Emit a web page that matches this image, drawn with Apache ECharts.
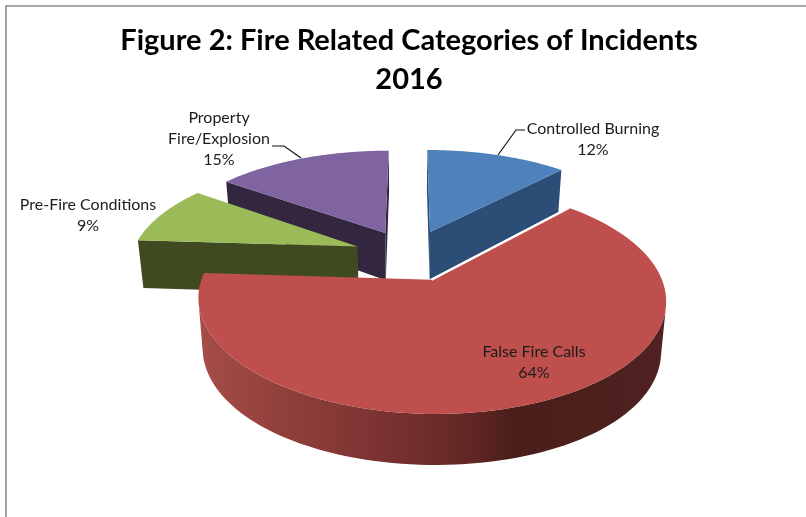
<!DOCTYPE html>
<html>
<head>
<meta charset="utf-8">
<style>html,body{margin:0;padding:0;background:#fff}#c{width:806px;height:517px}</style>
<script src="https://cdn.jsdelivr.net/npm/echarts@6/dist/echarts.min.js"></script>
</head>
<body>
<div id="c"></div>
<script>
// ---- data ----
const categories = ['Controlled Burning', 'False Fire Calls', 'Pre-Fire Conditions', 'Property Fire/Explosion'];
const values = [12, 64, 9, 15];
const titleText = 'Figure 2: Fire Related Categories of Incidents\n2016';

// ---- styling and layout, kept apart from the data ----
const topColors = ['#4F81BD', '#BE4F4C', '#9BBB59', '#8064A2'];
const sideColors = ['#2C4D75', '#C0504D', '#3F4A21', '#32273F'];
const widthScale = [1, 0.98, 1, 1];
const labelLines = [
  ['Controlled Burning'], ['False Fire Calls'], ['Pre-Fire Conditions'], ['Property', 'Fire/Explosion']
];
const labelAnchors = [[593, 139], [534, 362], [88, 215], [219, 139]];
const leaders = [
  [[525, 130], [516, 130], [498, 155]],
  null,
  null,
  [[272, 146], [284, 146], [301, 158]]
];
const FONT = 'Lato, Carlito, Calibri, sans-serif';
// Projection of the pie's ground plane onto the screen
const P = { cx: 410, cy: 255, A: 226, B: 102.6, d: 6.03, explode: 0.25, shrink: 0.98 };
const drawOrder = [0, 3, 2, 1];

function project(X, Y, bottom) {
  const s = 1 / (1 + Y / P.d);
  const k = bottom ? P.shrink : 1;
  const t = s - 0.96;
  const dy = bottom ? 47 + 41.7 * t - 95 * t * t : 0;
  return [P.cx + k * P.A * X * s, P.cy - P.B * Y * s + dy];
}
function area(pts) {
  let a = 0;
  for (let i = 0; i < pts.length; i++) {
    const p = pts[i], q = pts[(i + 1) % pts.length];
    a += p[0] * q[1] - q[0] * p[1];
  }
  return a / 2;
}
const total = values.reduce((a, b) => a + b, 0);
const startAngles = [];
values.reduce((acc, v, i) => { startAngles[i] = acc; return acc + v / total * 2 * Math.PI; }, 0);

function sliceParts(i) {
  const a0 = startAngles[i], a1 = a0 + values[i] / total * 2 * Math.PI, mid = (a0 + a1) / 2;
  const ox = P.explode * Math.sin(mid), oy = P.explode * Math.cos(mid);
  const rim = a => [ox + widthScale[i] * Math.sin(a), oy + Math.cos(a)];
  const N = 120, angles = [];
  for (let k = 0; k <= N; k++) angles.push(a0 + (a1 - a0) * k / N);
  const apex = project(ox, oy, false);
  const top = [apex].concat(angles.map(a => project(...rim(a), false)));
  const cut = a => {
    const r = rim(a);
    return [apex, project(r[0], r[1], false), project(r[0], r[1], true), project(ox, oy, true)];
  };
  // outer wall: only the steps that face the viewer
  const upper = [], lower = [];
  for (let k = 0; k < N; k++) {
    const r0 = rim(angles[k]), r1 = rim(angles[k + 1]);
    const q = [project(r0[0], r0[1], false), project(r1[0], r1[1], false), project(r1[0], r1[1], true), project(r0[0], r0[1], true)];
    if (area(q) < 0) {
      if (!upper.length) { upper.push(q[0]); lower.push(q[3]); }
      upper.push(q[1]); lower.push(q[2]);
    }
  }
  return {
    top, apex,
    firstEdge: [apex, project(...rim(a0), false)],
    cuts: [cut(a0), cut(a1).reverse()],
    wall: upper.concat(lower.reverse())
  };
}

const redWall = new echarts.graphic.LinearGradient(0, 0, 1, 0, [
  { offset: 0, color: '#A64D48' }, { offset: 0.2, color: '#8F3E3A' }, { offset: 0.42, color: '#783130' },
  { offset: 0.6, color: '#5E2623' }, { offset: 0.67, color: '#4A1E1B' }, { offset: 1, color: '#502120' }
]);

function renderItem(params, api) {
  const i = api.value(0);
  const parts = sliceParts(i);
  const children = [];
  parts.cuts.forEach(q => {
    if (area(q) < 0) children.push({ type: 'polygon', shape: { points: q }, style: { fill: sideColors[i] } });
  });
  if (parts.wall.length > 2) {
    children.push({ type: 'polygon', shape: { points: parts.wall },
      style: { fill: i === 1 ? redWall : sideColors[i] } });
  }
  children.push({ type: 'polygon', shape: { points: parts.top }, style: { fill: topColors[i] } });
  if (i === 1) {
    children.push({ type: 'polyline', shape: { points: parts.firstEdge }, style: { fill: 'none', stroke: '#fff', lineWidth: 2 } });
  }
  return { type: 'group', children };
}

function renderLabel(params, api) {
  const i = api.value(0);
  const lines = labelLines[i].concat([api.value(1) + '%']);
  const children = [{
    type: 'text',
    style: { x: labelAnchors[i][0], y: labelAnchors[i][1], text: lines.join('\n'), font: '16px ' + FONT,
      fill: '#1c1c1c', align: 'center', verticalAlign: 'middle', lineHeight: 21 }
  }];
  if (leaders[i]) {
    children.push({ type: 'polyline', shape: { points: leaders[i] }, style: { fill: 'none', stroke: '#111', lineWidth: 1.2 } });
  }
  return { type: 'group', children };
}

const chart = echarts.init(document.getElementById('c'), null, { renderer: 'canvas' });
chart.setOption({
  animation: false,
  backgroundColor: '#fff',
  title: {
    text: titleText, left: 404, top: 16, textAlign: 'center',
    textStyle: { fontFamily: FONT, fontWeight: 'bold', fontSize: 29, lineHeight: 39, color: '#000' }
  },
  graphic: [{
    type: 'polyline', silent: true, z: 0,
    shape: { points: [[6, 517], [6, 6], [806, 6]] },
    style: { fill: 'none', stroke: '#8c8c8c', lineWidth: 1.6 }
  }],
  series: [
    { type: 'custom', coordinateSystem: 'none', renderItem, silent: true, z: 2,
      data: drawOrder.map(i => [i, values[i]]) },
    { type: 'custom', coordinateSystem: 'none', renderItem: renderLabel, silent: true, z: 3,
      data: categories.map((c, i) => [i, values[i], c]) }
  ]
});
</script>
</body>
</html>
